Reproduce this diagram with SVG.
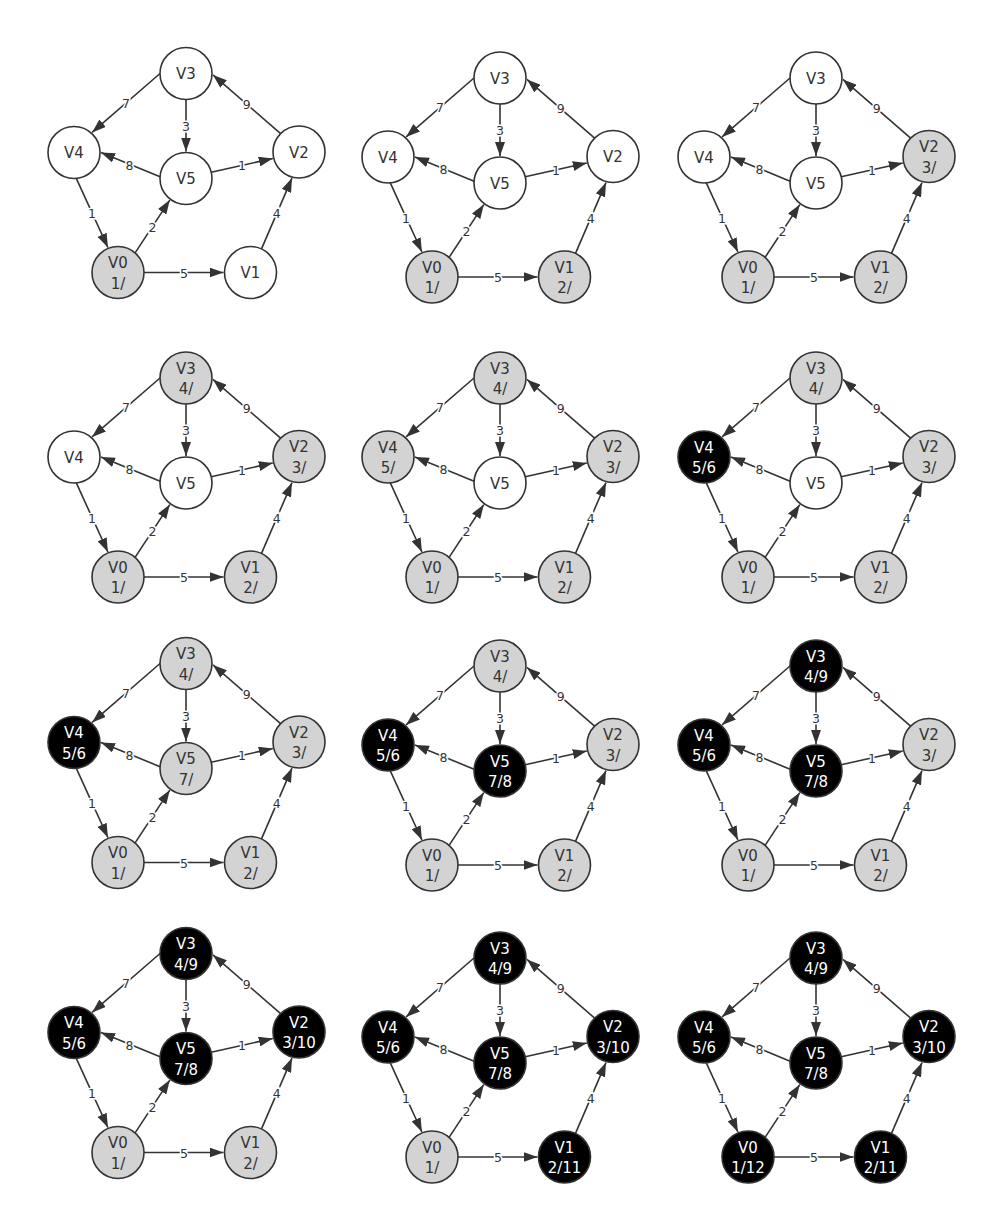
<svg xmlns="http://www.w3.org/2000/svg" width="985" height="1215" viewBox="0 0 985 1215">
<style>
.e{stroke:#333;stroke-width:1.6;fill:none;marker-end:url(#arr)}
.lt{font-family:"DejaVu Sans",sans-serif;font-size:12.5px;fill:#333;text-anchor:middle;stroke:#fff;stroke-width:3;paint-order:stroke}
.n circle{stroke:#333;stroke-width:1.6}
.w circle{fill:#fff}
.g circle{fill:#d3d3d3}
.b circle{fill:#000}
.n text{font-family:"DejaVu Sans",sans-serif;font-size:15px;fill:#333;text-anchor:middle}
.b text{fill:#fff}
</style>
<defs>
<marker id="arr" markerUnits="userSpaceOnUse" markerWidth="14" markerHeight="10" refX="14" refY="5" orient="auto"><path d="M0,0 L14,5 L0,10 z" fill="#333"/></marker>
</defs>
<rect width="985" height="1215" fill="#fff"/>

<g id="panel1" transform="translate(118,272.5)">
<g id="p1-edges">
<line class="e" x1="42" y1="-199" x2="-25.9" y2="-140.1"/><line class="e" x1="68" y1="-173" x2="68" y2="-121"/><line class="e" x1="162.6" y1="-138.9" x2="95" y2="-197.6"/><line class="e" x1="42.1" y1="-95.8" x2="-17" y2="-120"/><line class="e" x1="93.2" y1="-100.3" x2="154.8" y2="-114"/><line class="e" x1="-41.7" y1="-94.1" x2="-10.1" y2="-25"/><line class="e" x1="17.1" y1="-19.6" x2="51.8" y2="-72.4"/><line class="e" x1="26" y1="0" x2="105.5" y2="0"/><line class="e" x1="143.5" y1="-23.6" x2="174" y2="-94.4"/>
<text class="lt" x="8" y="-165">7</text><text class="lt" x="68" y="-142">3</text><text class="lt" x="128.7" y="-164">9</text><text class="lt" x="11.5" y="-103">8</text><text class="lt" x="124" y="-102.5">1</text><text class="lt" x="-26" y="-54.5">1</text><text class="lt" x="34.5" y="-41">2</text><text class="lt" x="66" y="5">5</text><text class="lt" x="158.8" y="-54.5">4</text>
</g>
<g id="p1-V0" class="n g"><circle cx="0" cy="0" r="26"/><text x="0" y="-4.5">V0</text><text x="0" y="16">1/</text></g>
<g id="p1-V1" class="n w"><circle cx="132.5" cy="0" r="26"/><text x="132.5" y="5.5">V1</text></g>
<g id="p1-V2" class="n w"><circle cx="181" cy="-120.5" r="26"/><text x="181" y="-115">V2</text></g>
<g id="p1-V3" class="n w"><circle cx="68" cy="-199" r="26"/><text x="68" y="-193.5">V3</text></g>
<g id="p1-V4" class="n w"><circle cx="-44" cy="-120" r="26"/><text x="-44" y="-114.5">V4</text></g>
<g id="p1-V5" class="n w"><circle cx="68" cy="-94" r="26"/><text x="68" y="-88.5">V5</text></g>
</g>

<g id="panel2" transform="translate(432,277)">
<g id="p2-edges">
<line class="e" x1="42" y1="-199" x2="-25.9" y2="-140.1"/><line class="e" x1="68" y1="-173" x2="68" y2="-121"/><line class="e" x1="162.6" y1="-138.9" x2="95" y2="-197.6"/><line class="e" x1="42.1" y1="-95.8" x2="-17" y2="-120"/><line class="e" x1="93.2" y1="-100.3" x2="154.8" y2="-114"/><line class="e" x1="-41.7" y1="-94.1" x2="-10.1" y2="-25"/><line class="e" x1="17.1" y1="-19.6" x2="51.8" y2="-72.4"/><line class="e" x1="26" y1="0" x2="105.5" y2="0"/><line class="e" x1="143.5" y1="-23.6" x2="174" y2="-94.4"/>
<text class="lt" x="8" y="-165">7</text><text class="lt" x="68" y="-142">3</text><text class="lt" x="128.7" y="-164">9</text><text class="lt" x="11.5" y="-103">8</text><text class="lt" x="124" y="-102.5">1</text><text class="lt" x="-26" y="-54.5">1</text><text class="lt" x="34.5" y="-41">2</text><text class="lt" x="66" y="5">5</text><text class="lt" x="158.8" y="-54.5">4</text>
</g>
<g id="p2-V0" class="n g"><circle cx="0" cy="0" r="26"/><text x="0" y="-4.5">V0</text><text x="0" y="16">1/</text></g>
<g id="p2-V1" class="n g"><circle cx="132.5" cy="0" r="26"/><text x="132.5" y="-4.5">V1</text><text x="132.5" y="16">2/</text></g>
<g id="p2-V2" class="n w"><circle cx="181" cy="-120.5" r="26"/><text x="181" y="-115">V2</text></g>
<g id="p2-V3" class="n w"><circle cx="68" cy="-199" r="26"/><text x="68" y="-193.5">V3</text></g>
<g id="p2-V4" class="n w"><circle cx="-44" cy="-120" r="26"/><text x="-44" y="-114.5">V4</text></g>
<g id="p2-V5" class="n w"><circle cx="68" cy="-94" r="26"/><text x="68" y="-88.5">V5</text></g>
</g>

<g id="panel3" transform="translate(748,277)">
<g id="p3-edges">
<line class="e" x1="42" y1="-199" x2="-25.9" y2="-140.1"/><line class="e" x1="68" y1="-173" x2="68" y2="-121"/><line class="e" x1="162.6" y1="-138.9" x2="95" y2="-197.6"/><line class="e" x1="42.1" y1="-95.8" x2="-17" y2="-120"/><line class="e" x1="93.2" y1="-100.3" x2="154.8" y2="-114"/><line class="e" x1="-41.7" y1="-94.1" x2="-10.1" y2="-25"/><line class="e" x1="17.1" y1="-19.6" x2="51.8" y2="-72.4"/><line class="e" x1="26" y1="0" x2="105.5" y2="0"/><line class="e" x1="143.5" y1="-23.6" x2="174" y2="-94.4"/>
<text class="lt" x="8" y="-165">7</text><text class="lt" x="68" y="-142">3</text><text class="lt" x="128.7" y="-164">9</text><text class="lt" x="11.5" y="-103">8</text><text class="lt" x="124" y="-102.5">1</text><text class="lt" x="-26" y="-54.5">1</text><text class="lt" x="34.5" y="-41">2</text><text class="lt" x="66" y="5">5</text><text class="lt" x="158.8" y="-54.5">4</text>
</g>
<g id="p3-V0" class="n g"><circle cx="0" cy="0" r="26"/><text x="0" y="-4.5">V0</text><text x="0" y="16">1/</text></g>
<g id="p3-V1" class="n g"><circle cx="132.5" cy="0" r="26"/><text x="132.5" y="-4.5">V1</text><text x="132.5" y="16">2/</text></g>
<g id="p3-V2" class="n g"><circle cx="181" cy="-120.5" r="26"/><text x="181" y="-125">V2</text><text x="181" y="-104.5">3/</text></g>
<g id="p3-V3" class="n w"><circle cx="68" cy="-199" r="26"/><text x="68" y="-193.5">V3</text></g>
<g id="p3-V4" class="n w"><circle cx="-44" cy="-120" r="26"/><text x="-44" y="-114.5">V4</text></g>
<g id="p3-V5" class="n w"><circle cx="68" cy="-94" r="26"/><text x="68" y="-88.5">V5</text></g>
</g>

<g id="panel4" transform="translate(118,577)">
<g id="p4-edges">
<line class="e" x1="42" y1="-199" x2="-25.9" y2="-140.1"/><line class="e" x1="68" y1="-173" x2="68" y2="-121"/><line class="e" x1="162.6" y1="-138.9" x2="95" y2="-197.6"/><line class="e" x1="42.1" y1="-95.8" x2="-17" y2="-120"/><line class="e" x1="93.2" y1="-100.3" x2="154.8" y2="-114"/><line class="e" x1="-41.7" y1="-94.1" x2="-10.1" y2="-25"/><line class="e" x1="17.1" y1="-19.6" x2="51.8" y2="-72.4"/><line class="e" x1="26" y1="0" x2="105.5" y2="0"/><line class="e" x1="143.5" y1="-23.6" x2="174" y2="-94.4"/>
<text class="lt" x="8" y="-165">7</text><text class="lt" x="68" y="-142">3</text><text class="lt" x="128.7" y="-164">9</text><text class="lt" x="11.5" y="-103">8</text><text class="lt" x="124" y="-102.5">1</text><text class="lt" x="-26" y="-54.5">1</text><text class="lt" x="34.5" y="-41">2</text><text class="lt" x="66" y="5">5</text><text class="lt" x="158.8" y="-54.5">4</text>
</g>
<g id="p4-V0" class="n g"><circle cx="0" cy="0" r="26"/><text x="0" y="-4.5">V0</text><text x="0" y="16">1/</text></g>
<g id="p4-V1" class="n g"><circle cx="132.5" cy="0" r="26"/><text x="132.5" y="-4.5">V1</text><text x="132.5" y="16">2/</text></g>
<g id="p4-V2" class="n g"><circle cx="181" cy="-120.5" r="26"/><text x="181" y="-125">V2</text><text x="181" y="-104.5">3/</text></g>
<g id="p4-V3" class="n g"><circle cx="68" cy="-199" r="26"/><text x="68" y="-203.5">V3</text><text x="68" y="-183">4/</text></g>
<g id="p4-V4" class="n w"><circle cx="-44" cy="-120" r="26"/><text x="-44" y="-114.5">V4</text></g>
<g id="p4-V5" class="n w"><circle cx="68" cy="-94" r="26"/><text x="68" y="-88.5">V5</text></g>
</g>

<g id="panel5" transform="translate(432,577)">
<g id="p5-edges">
<line class="e" x1="42" y1="-199" x2="-25.9" y2="-140.1"/><line class="e" x1="68" y1="-173" x2="68" y2="-121"/><line class="e" x1="162.6" y1="-138.9" x2="95" y2="-197.6"/><line class="e" x1="42.1" y1="-95.8" x2="-17" y2="-120"/><line class="e" x1="93.2" y1="-100.3" x2="154.8" y2="-114"/><line class="e" x1="-41.7" y1="-94.1" x2="-10.1" y2="-25"/><line class="e" x1="17.1" y1="-19.6" x2="51.8" y2="-72.4"/><line class="e" x1="26" y1="0" x2="105.5" y2="0"/><line class="e" x1="143.5" y1="-23.6" x2="174" y2="-94.4"/>
<text class="lt" x="8" y="-165">7</text><text class="lt" x="68" y="-142">3</text><text class="lt" x="128.7" y="-164">9</text><text class="lt" x="11.5" y="-103">8</text><text class="lt" x="124" y="-102.5">1</text><text class="lt" x="-26" y="-54.5">1</text><text class="lt" x="34.5" y="-41">2</text><text class="lt" x="66" y="5">5</text><text class="lt" x="158.8" y="-54.5">4</text>
</g>
<g id="p5-V0" class="n g"><circle cx="0" cy="0" r="26"/><text x="0" y="-4.5">V0</text><text x="0" y="16">1/</text></g>
<g id="p5-V1" class="n g"><circle cx="132.5" cy="0" r="26"/><text x="132.5" y="-4.5">V1</text><text x="132.5" y="16">2/</text></g>
<g id="p5-V2" class="n g"><circle cx="181" cy="-120.5" r="26"/><text x="181" y="-125">V2</text><text x="181" y="-104.5">3/</text></g>
<g id="p5-V3" class="n g"><circle cx="68" cy="-199" r="26"/><text x="68" y="-203.5">V3</text><text x="68" y="-183">4/</text></g>
<g id="p5-V4" class="n g"><circle cx="-44" cy="-120" r="26"/><text x="-44" y="-124.5">V4</text><text x="-44" y="-104">5/</text></g>
<g id="p5-V5" class="n w"><circle cx="68" cy="-94" r="26"/><text x="68" y="-88.5">V5</text></g>
</g>

<g id="panel6" transform="translate(748,577)">
<g id="p6-edges">
<line class="e" x1="42" y1="-199" x2="-25.9" y2="-140.1"/><line class="e" x1="68" y1="-173" x2="68" y2="-121"/><line class="e" x1="162.6" y1="-138.9" x2="95" y2="-197.6"/><line class="e" x1="42.1" y1="-95.8" x2="-17" y2="-120"/><line class="e" x1="93.2" y1="-100.3" x2="154.8" y2="-114"/><line class="e" x1="-41.7" y1="-94.1" x2="-10.1" y2="-25"/><line class="e" x1="17.1" y1="-19.6" x2="51.8" y2="-72.4"/><line class="e" x1="26" y1="0" x2="105.5" y2="0"/><line class="e" x1="143.5" y1="-23.6" x2="174" y2="-94.4"/>
<text class="lt" x="8" y="-165">7</text><text class="lt" x="68" y="-142">3</text><text class="lt" x="128.7" y="-164">9</text><text class="lt" x="11.5" y="-103">8</text><text class="lt" x="124" y="-102.5">1</text><text class="lt" x="-26" y="-54.5">1</text><text class="lt" x="34.5" y="-41">2</text><text class="lt" x="66" y="5">5</text><text class="lt" x="158.8" y="-54.5">4</text>
</g>
<g id="p6-V0" class="n g"><circle cx="0" cy="0" r="26"/><text x="0" y="-4.5">V0</text><text x="0" y="16">1/</text></g>
<g id="p6-V1" class="n g"><circle cx="132.5" cy="0" r="26"/><text x="132.5" y="-4.5">V1</text><text x="132.5" y="16">2/</text></g>
<g id="p6-V2" class="n g"><circle cx="181" cy="-120.5" r="26"/><text x="181" y="-125">V2</text><text x="181" y="-104.5">3/</text></g>
<g id="p6-V3" class="n g"><circle cx="68" cy="-199" r="26"/><text x="68" y="-203.5">V3</text><text x="68" y="-183">4/</text></g>
<g id="p6-V4" class="n b"><circle cx="-44" cy="-120" r="26"/><text x="-44" y="-124.5">V4</text><text x="-44" y="-104">5/6</text></g>
<g id="p6-V5" class="n w"><circle cx="68" cy="-94" r="26"/><text x="68" y="-88.5">V5</text></g>
</g>

<g id="panel7" transform="translate(118,862.5)">
<g id="p7-edges">
<line class="e" x1="42" y1="-199" x2="-25.9" y2="-140.1"/><line class="e" x1="68" y1="-173" x2="68" y2="-121"/><line class="e" x1="162.6" y1="-138.9" x2="95" y2="-197.6"/><line class="e" x1="42.1" y1="-95.8" x2="-17" y2="-120"/><line class="e" x1="93.2" y1="-100.3" x2="154.8" y2="-114"/><line class="e" x1="-41.7" y1="-94.1" x2="-10.1" y2="-25"/><line class="e" x1="17.1" y1="-19.6" x2="51.8" y2="-72.4"/><line class="e" x1="26" y1="0" x2="105.5" y2="0"/><line class="e" x1="143.5" y1="-23.6" x2="174" y2="-94.4"/>
<text class="lt" x="8" y="-165">7</text><text class="lt" x="68" y="-142">3</text><text class="lt" x="128.7" y="-164">9</text><text class="lt" x="11.5" y="-103">8</text><text class="lt" x="124" y="-102.5">1</text><text class="lt" x="-26" y="-54.5">1</text><text class="lt" x="34.5" y="-41">2</text><text class="lt" x="66" y="5">5</text><text class="lt" x="158.8" y="-54.5">4</text>
</g>
<g id="p7-V0" class="n g"><circle cx="0" cy="0" r="26"/><text x="0" y="-4.5">V0</text><text x="0" y="16">1/</text></g>
<g id="p7-V1" class="n g"><circle cx="132.5" cy="0" r="26"/><text x="132.5" y="-4.5">V1</text><text x="132.5" y="16">2/</text></g>
<g id="p7-V2" class="n g"><circle cx="181" cy="-120.5" r="26"/><text x="181" y="-125">V2</text><text x="181" y="-104.5">3/</text></g>
<g id="p7-V3" class="n g"><circle cx="68" cy="-199" r="26"/><text x="68" y="-203.5">V3</text><text x="68" y="-183">4/</text></g>
<g id="p7-V4" class="n b"><circle cx="-44" cy="-120" r="26"/><text x="-44" y="-124.5">V4</text><text x="-44" y="-104">5/6</text></g>
<g id="p7-V5" class="n g"><circle cx="68" cy="-94" r="26"/><text x="68" y="-98.5">V5</text><text x="68" y="-78">7/</text></g>
</g>

<g id="panel8" transform="translate(432,865)">
<g id="p8-edges">
<line class="e" x1="42" y1="-199" x2="-25.9" y2="-140.1"/><line class="e" x1="68" y1="-173" x2="68" y2="-121"/><line class="e" x1="162.6" y1="-138.9" x2="95" y2="-197.6"/><line class="e" x1="42.1" y1="-95.8" x2="-17" y2="-120"/><line class="e" x1="93.2" y1="-100.3" x2="154.8" y2="-114"/><line class="e" x1="-41.7" y1="-94.1" x2="-10.1" y2="-25"/><line class="e" x1="17.1" y1="-19.6" x2="51.8" y2="-72.4"/><line class="e" x1="26" y1="0" x2="105.5" y2="0"/><line class="e" x1="143.5" y1="-23.6" x2="174" y2="-94.4"/>
<text class="lt" x="8" y="-165">7</text><text class="lt" x="68" y="-142">3</text><text class="lt" x="128.7" y="-164">9</text><text class="lt" x="11.5" y="-103">8</text><text class="lt" x="124" y="-102.5">1</text><text class="lt" x="-26" y="-54.5">1</text><text class="lt" x="34.5" y="-41">2</text><text class="lt" x="66" y="5">5</text><text class="lt" x="158.8" y="-54.5">4</text>
</g>
<g id="p8-V0" class="n g"><circle cx="0" cy="0" r="26"/><text x="0" y="-4.5">V0</text><text x="0" y="16">1/</text></g>
<g id="p8-V1" class="n g"><circle cx="132.5" cy="0" r="26"/><text x="132.5" y="-4.5">V1</text><text x="132.5" y="16">2/</text></g>
<g id="p8-V2" class="n g"><circle cx="181" cy="-120.5" r="26"/><text x="181" y="-125">V2</text><text x="181" y="-104.5">3/</text></g>
<g id="p8-V3" class="n g"><circle cx="68" cy="-199" r="26"/><text x="68" y="-203.5">V3</text><text x="68" y="-183">4/</text></g>
<g id="p8-V4" class="n b"><circle cx="-44" cy="-120" r="26"/><text x="-44" y="-124.5">V4</text><text x="-44" y="-104">5/6</text></g>
<g id="p8-V5" class="n b"><circle cx="68" cy="-94" r="26"/><text x="68" y="-98.5">V5</text><text x="68" y="-78">7/8</text></g>
</g>

<g id="panel9" transform="translate(748,865)">
<g id="p9-edges">
<line class="e" x1="42" y1="-199" x2="-25.9" y2="-140.1"/><line class="e" x1="68" y1="-173" x2="68" y2="-121"/><line class="e" x1="162.6" y1="-138.9" x2="95" y2="-197.6"/><line class="e" x1="42.1" y1="-95.8" x2="-17" y2="-120"/><line class="e" x1="93.2" y1="-100.3" x2="154.8" y2="-114"/><line class="e" x1="-41.7" y1="-94.1" x2="-10.1" y2="-25"/><line class="e" x1="17.1" y1="-19.6" x2="51.8" y2="-72.4"/><line class="e" x1="26" y1="0" x2="105.5" y2="0"/><line class="e" x1="143.5" y1="-23.6" x2="174" y2="-94.4"/>
<text class="lt" x="8" y="-165">7</text><text class="lt" x="68" y="-142">3</text><text class="lt" x="128.7" y="-164">9</text><text class="lt" x="11.5" y="-103">8</text><text class="lt" x="124" y="-102.5">1</text><text class="lt" x="-26" y="-54.5">1</text><text class="lt" x="34.5" y="-41">2</text><text class="lt" x="66" y="5">5</text><text class="lt" x="158.8" y="-54.5">4</text>
</g>
<g id="p9-V0" class="n g"><circle cx="0" cy="0" r="26"/><text x="0" y="-4.5">V0</text><text x="0" y="16">1/</text></g>
<g id="p9-V1" class="n g"><circle cx="132.5" cy="0" r="26"/><text x="132.5" y="-4.5">V1</text><text x="132.5" y="16">2/</text></g>
<g id="p9-V2" class="n g"><circle cx="181" cy="-120.5" r="26"/><text x="181" y="-125">V2</text><text x="181" y="-104.5">3/</text></g>
<g id="p9-V3" class="n b"><circle cx="68" cy="-199" r="26"/><text x="68" y="-203.5">V3</text><text x="68" y="-183">4/9</text></g>
<g id="p9-V4" class="n b"><circle cx="-44" cy="-120" r="26"/><text x="-44" y="-124.5">V4</text><text x="-44" y="-104">5/6</text></g>
<g id="p9-V5" class="n b"><circle cx="68" cy="-94" r="26"/><text x="68" y="-98.5">V5</text><text x="68" y="-78">7/8</text></g>
</g>

<g id="panel10" transform="translate(118,1152.5)">
<g id="p10-edges">
<line class="e" x1="42" y1="-199" x2="-25.9" y2="-140.1"/><line class="e" x1="68" y1="-173" x2="68" y2="-121"/><line class="e" x1="162.6" y1="-138.9" x2="95" y2="-197.6"/><line class="e" x1="42.1" y1="-95.8" x2="-17" y2="-120"/><line class="e" x1="93.2" y1="-100.3" x2="154.8" y2="-114"/><line class="e" x1="-41.7" y1="-94.1" x2="-10.1" y2="-25"/><line class="e" x1="17.1" y1="-19.6" x2="51.8" y2="-72.4"/><line class="e" x1="26" y1="0" x2="105.5" y2="0"/><line class="e" x1="143.5" y1="-23.6" x2="174" y2="-94.4"/>
<text class="lt" x="8" y="-165">7</text><text class="lt" x="68" y="-142">3</text><text class="lt" x="128.7" y="-164">9</text><text class="lt" x="11.5" y="-103">8</text><text class="lt" x="124" y="-102.5">1</text><text class="lt" x="-26" y="-54.5">1</text><text class="lt" x="34.5" y="-41">2</text><text class="lt" x="66" y="5">5</text><text class="lt" x="158.8" y="-54.5">4</text>
</g>
<g id="p10-V0" class="n g"><circle cx="0" cy="0" r="26"/><text x="0" y="-4.5">V0</text><text x="0" y="16">1/</text></g>
<g id="p10-V1" class="n g"><circle cx="132.5" cy="0" r="26"/><text x="132.5" y="-4.5">V1</text><text x="132.5" y="16">2/</text></g>
<g id="p10-V2" class="n b"><circle cx="181" cy="-120.5" r="26"/><text x="181" y="-125">V2</text><text x="181" y="-104.5">3/10</text></g>
<g id="p10-V3" class="n b"><circle cx="68" cy="-199" r="26"/><text x="68" y="-203.5">V3</text><text x="68" y="-183">4/9</text></g>
<g id="p10-V4" class="n b"><circle cx="-44" cy="-120" r="26"/><text x="-44" y="-124.5">V4</text><text x="-44" y="-104">5/6</text></g>
<g id="p10-V5" class="n b"><circle cx="68" cy="-94" r="26"/><text x="68" y="-98.5">V5</text><text x="68" y="-78">7/8</text></g>
</g>

<g id="panel11" transform="translate(432,1157)">
<g id="p11-edges">
<line class="e" x1="42" y1="-199" x2="-25.9" y2="-140.1"/><line class="e" x1="68" y1="-173" x2="68" y2="-121"/><line class="e" x1="162.6" y1="-138.9" x2="95" y2="-197.6"/><line class="e" x1="42.1" y1="-95.8" x2="-17" y2="-120"/><line class="e" x1="93.2" y1="-100.3" x2="154.8" y2="-114"/><line class="e" x1="-41.7" y1="-94.1" x2="-10.1" y2="-25"/><line class="e" x1="17.1" y1="-19.6" x2="51.8" y2="-72.4"/><line class="e" x1="26" y1="0" x2="105.5" y2="0"/><line class="e" x1="143.5" y1="-23.6" x2="174" y2="-94.4"/>
<text class="lt" x="8" y="-165">7</text><text class="lt" x="68" y="-142">3</text><text class="lt" x="128.7" y="-164">9</text><text class="lt" x="11.5" y="-103">8</text><text class="lt" x="124" y="-102.5">1</text><text class="lt" x="-26" y="-54.5">1</text><text class="lt" x="34.5" y="-41">2</text><text class="lt" x="66" y="5">5</text><text class="lt" x="158.8" y="-54.5">4</text>
</g>
<g id="p11-V0" class="n g"><circle cx="0" cy="0" r="26"/><text x="0" y="-4.5">V0</text><text x="0" y="16">1/</text></g>
<g id="p11-V1" class="n b"><circle cx="132.5" cy="0" r="26"/><text x="132.5" y="-4.5">V1</text><text x="132.5" y="16">2/11</text></g>
<g id="p11-V2" class="n b"><circle cx="181" cy="-120.5" r="26"/><text x="181" y="-125">V2</text><text x="181" y="-104.5">3/10</text></g>
<g id="p11-V3" class="n b"><circle cx="68" cy="-199" r="26"/><text x="68" y="-203.5">V3</text><text x="68" y="-183">4/9</text></g>
<g id="p11-V4" class="n b"><circle cx="-44" cy="-120" r="26"/><text x="-44" y="-124.5">V4</text><text x="-44" y="-104">5/6</text></g>
<g id="p11-V5" class="n b"><circle cx="68" cy="-94" r="26"/><text x="68" y="-98.5">V5</text><text x="68" y="-78">7/8</text></g>
</g>

<g id="panel12" transform="translate(748,1157)">
<g id="p12-edges">
<line class="e" x1="42" y1="-199" x2="-25.9" y2="-140.1"/><line class="e" x1="68" y1="-173" x2="68" y2="-121"/><line class="e" x1="162.6" y1="-138.9" x2="95" y2="-197.6"/><line class="e" x1="42.1" y1="-95.8" x2="-17" y2="-120"/><line class="e" x1="93.2" y1="-100.3" x2="154.8" y2="-114"/><line class="e" x1="-41.7" y1="-94.1" x2="-10.1" y2="-25"/><line class="e" x1="17.1" y1="-19.6" x2="51.8" y2="-72.4"/><line class="e" x1="26" y1="0" x2="105.5" y2="0"/><line class="e" x1="143.5" y1="-23.6" x2="174" y2="-94.4"/>
<text class="lt" x="8" y="-165">7</text><text class="lt" x="68" y="-142">3</text><text class="lt" x="128.7" y="-164">9</text><text class="lt" x="11.5" y="-103">8</text><text class="lt" x="124" y="-102.5">1</text><text class="lt" x="-26" y="-54.5">1</text><text class="lt" x="34.5" y="-41">2</text><text class="lt" x="66" y="5">5</text><text class="lt" x="158.8" y="-54.5">4</text>
</g>
<g id="p12-V0" class="n b"><circle cx="0" cy="0" r="26"/><text x="0" y="-4.5">V0</text><text x="0" y="16">1/12</text></g>
<g id="p12-V1" class="n b"><circle cx="132.5" cy="0" r="26"/><text x="132.5" y="-4.5">V1</text><text x="132.5" y="16">2/11</text></g>
<g id="p12-V2" class="n b"><circle cx="181" cy="-120.5" r="26"/><text x="181" y="-125">V2</text><text x="181" y="-104.5">3/10</text></g>
<g id="p12-V3" class="n b"><circle cx="68" cy="-199" r="26"/><text x="68" y="-203.5">V3</text><text x="68" y="-183">4/9</text></g>
<g id="p12-V4" class="n b"><circle cx="-44" cy="-120" r="26"/><text x="-44" y="-124.5">V4</text><text x="-44" y="-104">5/6</text></g>
<g id="p12-V5" class="n b"><circle cx="68" cy="-94" r="26"/><text x="68" y="-98.5">V5</text><text x="68" y="-78">7/8</text></g>
</g>
</svg>
